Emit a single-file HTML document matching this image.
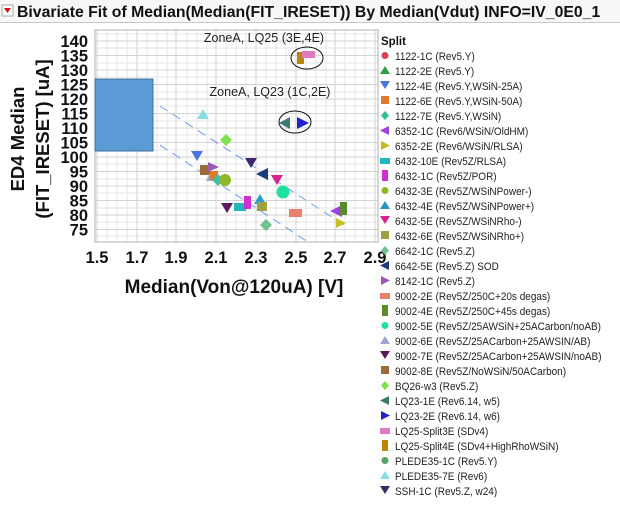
<!DOCTYPE html>
<html><head><meta charset="utf-8"><style>
body{margin:0;background:#fff;width:620px;height:502px;overflow:hidden;font-family:"Liberation Sans",sans-serif}
</style></head><body>
<svg width="620" height="502" xmlns="http://www.w3.org/2000/svg" font-family="Liberation Sans, sans-serif">
<rect width="620" height="502" fill="#fff"/>
<rect x="0" y="0" width="620" height="22" fill="#f7f7f7"/>
<line x1="0" y1="22.5" x2="620" y2="22.5" stroke="#c8c8c8"/>
<rect x="2" y="5" width="11" height="11" fill="#fff" stroke="#aaa"/>
<polygon points="4,8 11,8 7.5,13" fill="#d0141c"/>
<text x="17" y="17" font-size="15.8" font-weight="bold" fill="#111">Bivariate Fit of Median(Median(FIT_IRESET)) By Median(Vdut) INFO=IV_0E0_1</text>
<g stroke="#e6e6e6" stroke-width="1">
<line x1="107" y1="30" x2="107" y2="242"/><line x1="117" y1="30" x2="117" y2="242"/><line x1="127" y1="30" x2="127" y2="242"/><line x1="147" y1="30" x2="147" y2="242"/><line x1="157" y1="30" x2="157" y2="242"/><line x1="167" y1="30" x2="167" y2="242"/><line x1="187" y1="30" x2="187" y2="242"/><line x1="197" y1="30" x2="197" y2="242"/><line x1="207" y1="30" x2="207" y2="242"/><line x1="226" y1="30" x2="226" y2="242"/><line x1="236" y1="30" x2="236" y2="242"/><line x1="246" y1="30" x2="246" y2="242"/><line x1="266" y1="30" x2="266" y2="242"/><line x1="276" y1="30" x2="276" y2="242"/><line x1="286" y1="30" x2="286" y2="242"/><line x1="306" y1="30" x2="306" y2="242"/><line x1="316" y1="30" x2="316" y2="242"/><line x1="326" y1="30" x2="326" y2="242"/><line x1="345" y1="30" x2="345" y2="242"/><line x1="355" y1="30" x2="355" y2="242"/><line x1="365" y1="30" x2="365" y2="242"/>
</g>
<g stroke="#e6e6e6">
<line x1="95" y1="34" x2="378" y2="34"/><line x1="95" y1="48" x2="378" y2="48"/><line x1="95" y1="63" x2="378" y2="63"/><line x1="95" y1="77" x2="378" y2="77"/><line x1="95" y1="92" x2="378" y2="92"/><line x1="95" y1="106" x2="378" y2="106"/><line x1="95" y1="121" x2="378" y2="121"/><line x1="95" y1="135" x2="378" y2="135"/><line x1="95" y1="150" x2="378" y2="150"/><line x1="95" y1="164" x2="378" y2="164"/><line x1="95" y1="179" x2="378" y2="179"/><line x1="95" y1="193" x2="378" y2="193"/><line x1="95" y1="208" x2="378" y2="208"/><line x1="95" y1="222" x2="378" y2="222"/><line x1="95" y1="236" x2="378" y2="236"/>
</g>
<g stroke="#d2d2d2">
<line x1="97" y1="30" x2="97" y2="242"/><line x1="137" y1="30" x2="137" y2="242"/><line x1="176" y1="30" x2="176" y2="242"/><line x1="216" y1="30" x2="216" y2="242"/><line x1="256" y1="30" x2="256" y2="242"/><line x1="296" y1="30" x2="296" y2="242"/><line x1="335" y1="30" x2="335" y2="242"/><line x1="375" y1="30" x2="375" y2="242"/>
<line x1="95" y1="41" x2="378" y2="41"/><line x1="95" y1="55.5" x2="378" y2="55.5"/><line x1="95" y1="70" x2="378" y2="70"/><line x1="95" y1="84.5" x2="378" y2="84.5"/><line x1="95" y1="99" x2="378" y2="99"/><line x1="95" y1="113.5" x2="378" y2="113.5"/><line x1="95" y1="128" x2="378" y2="128"/><line x1="95" y1="142.5" x2="378" y2="142.5"/><line x1="95" y1="157" x2="378" y2="157"/><line x1="95" y1="171.5" x2="378" y2="171.5"/><line x1="95" y1="186" x2="378" y2="186"/><line x1="95" y1="200.5" x2="378" y2="200.5"/><line x1="95" y1="215" x2="378" y2="215"/><line x1="95" y1="229.5" x2="378" y2="229.5"/>
</g>
<rect x="95" y="30" width="283" height="212" fill="none" stroke="#b0b0b0"/>
<g font-size="16.5" font-weight="bold" fill="#111" text-anchor="end">
<text x="88" y="47">140</text><text x="88" y="61.5">135</text><text x="88" y="76">130</text><text x="88" y="90.5">125</text><text x="88" y="105">120</text><text x="88" y="119.5">115</text><text x="88" y="134">110</text><text x="88" y="148.5">105</text><text x="88" y="163">100</text><text x="88" y="177.5">95</text><text x="88" y="192">90</text><text x="88" y="206.5">85</text><text x="88" y="221">80</text><text x="88" y="235.5">75</text>
</g>
<g font-size="16.5" font-weight="bold" fill="#111" text-anchor="middle">
<text x="97" y="263">1.5</text><text x="137" y="263">1.7</text><text x="176" y="263">1.9</text><text x="216" y="263">2.1</text><text x="256" y="263">2.3</text><text x="296" y="263">2.5</text><text x="335" y="263">2.7</text><text x="375" y="263">2.9</text>
</g>
<text x="234" y="293" font-size="19" font-weight="bold" text-anchor="middle" fill="#111">Median(Von@120uA)  [V]</text>
<text transform="translate(24,139) rotate(-90)" font-size="18.5" font-weight="bold" text-anchor="middle" fill="#111">ED4 Median</text>
<text transform="translate(49,139) rotate(-90)" font-size="18.5" font-weight="bold" text-anchor="middle" fill="#111">(FIT_IRESET) [uA]</text>
<rect x="95" y="79" width="58" height="72" fill="#5b9bd5" stroke="#41719c"/>
<line x1="160" y1="106" x2="349" y2="228" stroke="#6f9bef" stroke-dasharray="9,6"/>
<line x1="160" y1="145" x2="308" y2="242" stroke="#6f9bef" stroke-dasharray="9,6"/>
<text x="264" y="42" font-size="12.5" text-anchor="middle" fill="#222">ZoneA, LQ25 (3E,4E)</text>
<text x="270" y="96" font-size="12.5" text-anchor="middle" fill="#222">ZoneA, LQ23 (1C,2E)</text>
<ellipse cx="307" cy="58" rx="16" ry="11" fill="none" stroke="#111"/>
<ellipse cx="295" cy="122" rx="16" ry="11" fill="none" stroke="#111"/>
<rect x="297" y="52" width="7" height="12" fill="#b8860b"/>
<rect x="302" y="51" width="13" height="7" fill="#e07ac0"/>
<polygon points="279,123 290,117 290,129" fill="#3e7a6e"/>
<polygon points="309,123 297,117 297,129" fill="#2222cc"/>
<polygon points="203,109 197,119 209,119" fill="#88dde6"/>
<polygon points="226,134 232,140 226,146 220,140" fill="#7ee04a"/>
<polygon points="191,151 203,151 197,161" fill="#4a74e0"/>
<polygon points="245,158 257,158 251,168" fill="#3a2a6a"/>
<polygon points="256,174 268,168 268,180" fill="#1f3a7a"/>
<polygon points="271,175 283,175 277,185" fill="#d6248a"/>
<rect x="200" y="165" width="10" height="10" fill="#9a6a3a"/>
<polygon points="219,167 208,162 208,172" fill="#9a5ab0"/>
<polygon points="211,171 206,181 216,181" fill="#9ea6d0"/>
<rect x="210" y="171" width="8" height="9" fill="#e07a2a"/>
<polygon points="218,174 224,180 218,186 212,180" fill="#40c0a0"/>
<circle cx="225" cy="180" r="6" fill="#8db82a"/>
<circle cx="283" cy="192" r="6.5" fill="#20e0a0"/>
<polygon points="221,203 233,203 227,213" fill="#5a1a5a"/>
<rect x="234" y="203" width="12" height="8" fill="#20b8b8"/>
<rect x="244" y="196" width="7" height="13" fill="#d030d0"/>
<polygon points="260,194 254,204 266,204" fill="#2aa0d0"/>
<rect x="257" y="202" width="10" height="9" fill="#a0a040"/>
<polygon points="266,219 272,225 266,231 260,225" fill="#70c090"/>
<rect x="289" y="209" width="13" height="8" fill="#e88070"/>
<polygon points="330,211 342,205 342,217" fill="#a040e0"/>
<rect x="340" y="202" width="7" height="13" fill="#5a8a2a"/>
<polygon points="346,223 336,218 336,228" fill="#c8c020"/>
<text x="381" y="45" font-size="11.5" font-weight="bold" fill="#111">Split</text>
<g font-size="11.5" fill="#222" transform="translate(395,0) scale(0.87,1)">
<text x="0" y="60">1122-1C (Rev5.Y)</text>
<text x="0" y="75">1122-2E (Rev5.Y)</text>
<text x="0" y="90">1122-4E (Rev5.Y,WSiN-25A)</text>
<text x="0" y="105">1122-6E (Rev5.Y,WSiN-50A)</text>
<text x="0" y="120">1122-7E (Rev5.Y,WSiN)</text>
<text x="0" y="135">6352-1C (Rev6/WSiN/OldHM)</text>
<text x="0" y="150">6352-2E (Rev6/WSiN/RLSA)</text>
<text x="0" y="165">6432-10E (Rev5Z/RLSA)</text>
<text x="0" y="180">6432-1C (Rev5Z/POR)</text>
<text x="0" y="195">6432-3E (Rev5Z/WSiNPower-)</text>
<text x="0" y="210">6432-4E (Rev5Z/WSiNPower+)</text>
<text x="0" y="225">6432-5E (Rev5Z/WSiNRho-)</text>
<text x="0" y="240">6432-6E (Rev5Z/WSiNRho+)</text>
<text x="0" y="255">6642-1C (Rev5.Z)</text>
<text x="0" y="270">6642-5E (Rev5.Z) SOD</text>
<text x="0" y="285">8142-1C (Rev5.Z)</text>
<text x="0" y="300">9002-2E (Rev5Z/250C+20s degas)</text>
<text x="0" y="315">9002-4E (Rev5Z/250C+45s degas)</text>
<text x="0" y="330">9002-5E (Rev5Z/25AWSiN+25ACarbon/noAB)</text>
<text x="0" y="345">9002-6E (Rev5Z/25ACarbon+25AWSIN/AB)</text>
<text x="0" y="360">9002-7E (Rev5Z/25ACarbon+25AWSIN/noAB)</text>
<text x="0" y="375">9002-8E (Rev5Z/NoWSiN/50ACarbon)</text>
<text x="0" y="390">BQ26-w3 (Rev5.Z)</text>
<text x="0" y="405">LQ23-1E (Rev6.14, w5)</text>
<text x="0" y="420">LQ23-2E (Rev6.14, w6)</text>
<text x="0" y="435">LQ25-Split3E (SDv4)</text>
<text x="0" y="450">LQ25-Split4E (SDv4+HighRhoWSiN)</text>
<text x="0" y="465">PLEDE35-1C (Rev5.Y)</text>
<text x="0" y="480">PLEDE35-7E (Rev6)</text>
<text x="0" y="495">SSH-1C (Rev5.Z, w24)</text>
</g>
<g>
<circle cx="385" cy="55.5" r="3.5" fill="#d94050"/>
<polygon points="385,66 380,74 390,74" fill="#2aa040"/>
<polygon points="380,81 390,81 385,89" fill="#4a74e0"/>
<rect x="381" y="96" width="8" height="8" fill="#e07a2a"/>
<polygon points="385,111 389,115.5 385,120 381,115.5" fill="#30c090"/>
<polygon points="380,130.5 389,126 389,135" fill="#a040e0"/>
<polygon points="390,145.5 381,141 381,150" fill="#c8b820"/>
<rect x="380" y="158" width="10" height="6" fill="#20b8b8"/>
<rect x="382" y="170" width="6" height="11" fill="#d030d0"/>
<circle cx="385" cy="190.5" r="3.5" fill="#8db82a"/>
<polygon points="385,201 380,209 390,209" fill="#2a90c0"/>
<polygon points="380,216 390,216 385,224" fill="#d6248a"/>
<rect x="381" y="231" width="8" height="8" fill="#a0a040"/>
<polygon points="385,246 389,250.5 385,255 381,250.5" fill="#70c090"/>
<polygon points="380,265.5 389,261 389,270" fill="#1f3a7a"/>
<polygon points="390,280.5 381,276 381,285" fill="#9a5ab0"/>
<rect x="380" y="293" width="10" height="6" fill="#e88070"/>
<rect x="382" y="305" width="6" height="11" fill="#5a8a2a"/>
<circle cx="385" cy="325.5" r="3.5" fill="#20e0a0"/>
<polygon points="385,336 380,344 390,344" fill="#9ea6d0"/>
<polygon points="380,351 390,351 385,359" fill="#5a1a5a"/>
<rect x="381" y="366" width="8" height="8" fill="#9a6a3a"/>
<polygon points="385,381 389,385.5 385,390 381,385.5" fill="#7ee04a"/>
<polygon points="380,400.5 389,396 389,405" fill="#3e7a6e"/>
<polygon points="390,415.5 381,411 381,420" fill="#2222cc"/>
<rect x="380" y="428" width="10" height="6" fill="#e07ac0"/>
<rect x="382" y="440" width="6" height="11" fill="#b8860b"/>
<circle cx="385" cy="460.5" r="3.5" fill="#5aa060"/>
<polygon points="385,471 380,479 390,479" fill="#88dde6"/>
<polygon points="380,486 390,486 385,494" fill="#3a2a6a"/>
</g>
</svg>
</body></html>
